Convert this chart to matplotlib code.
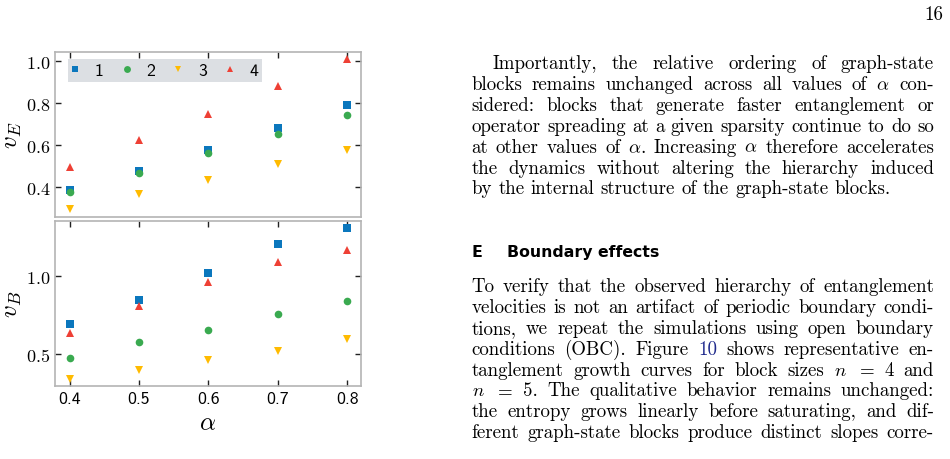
import matplotlib
matplotlib.use("Agg")
from matplotlib import pyplot as plt
from matplotlib.ticker import FormatStrFormatter

plt.rcParams["mathtext.fontset"] = "cm"
plt.rcParams["axes.unicode_minus"] = False

W, H = 950, 460

# data
alpha = [0.4, 0.5, 0.6, 0.7, 0.8]
labels = ["1", "2", "3", "4"]
vE = [
    [0.387, 0.476, 0.577, 0.680, 0.788],
    [0.378, 0.468, 0.562, 0.652, 0.745],
    [0.297, 0.368, 0.436, 0.509, 0.576],
    [0.498, 0.622, 0.748, 0.880, 1.009],
]
vB = [
    [0.694, 0.847, 1.019, 1.211, 1.310],
    [0.470, 0.573, 0.655, 0.759, 0.843],
    [0.338, 0.394, 0.459, 0.515, 0.593],
    [0.634, 0.808, 0.963, 1.093, 1.172],
]
colors = ["#0b77bd", "#3aaa50", "#ffbb00", "#ee4035"]
markers = ["s", "o", "v", "^"]

para1 = [
    "Importantly, the relative ordering of graph-state",
    r"blocks remains unchanged across all values of $\alpha$ con-",
    "sidered: blocks that generate faster entanglement or",
    "operator spreading at a given sparsity continue to do so",
    r"at other values of $\alpha$. Increasing $\alpha$ therefore accelerates",
    "the dynamics without altering the hierarchy induced",
    "by the internal structure of the graph-state blocks.",
]
para2 = [
    "To verify that the observed hierarchy of entanglement",
    "velocities is not an artifact of periodic boundary condi-",
    "tions, we repeat the simulations using open boundary",
    "conditions (OBC). Figure 10 shows representative en-",
    "tanglement growth curves for block sizes $n$ $=$ 4 and",
    "$n$ $=$ 5. The qualitative behavior remains unchanged:",
    "the entropy grows linearly before saturating, and dif-",
    "ferent graph-state blocks produce distinct slopes corre-",
]

fig = plt.figure(figsize=(W / 100, H / 100), dpi=100)
fig.patch.set_facecolor("white")


def px(x, y):
    return x / W, 1 - y / H


ax1 = fig.add_axes([55 / W, 1 - 218 / H, 306 / W, 165.5 / H])
ax2 = fig.add_axes([55 / W, 1 - 387 / H, 306 / W, 165 / H])

for ax, data in [(ax1, vE), (ax2, vB)]:
    for i in range(4):
        ax.plot(alpha, data[i], ls="none", marker=markers[i], color=colors[i],
                ms=5.5, mew=0, label=labels[i])
    ax.set_xlim(0.379, 0.820)
    ax.set_xticks(alpha)
    for s in ax.spines.values():
        s.set_color("#b4b4b4")
        s.set_linewidth(1.2)
    ax.yaxis.set_major_formatter(FormatStrFormatter("$%.1f$"))
    ax.tick_params(direction="in", length=4, width=1, color="#222222",
                   left=True, right=True, labelsize=13)

ax1.set_ylim(0.259, 1.044)
ax1.set_yticks([0.4, 0.6, 0.8, 1.0])
ax1.tick_params(top=True, bottom=False, labelbottom=False)
ax2.set_ylim(0.291, 1.357)
ax2.set_yticks([0.5, 1.0])
ax2.tick_params(top=True, bottom=True)
for t in ax2.get_xticklabels():
    t.set_fontfamily("cmss10")
    t.set_fontsize(12.8)

ax1.set_ylabel(r"$v_E$", fontsize=18)
ax2.set_ylabel(r"$v_B$", fontsize=18)
ax1.yaxis.set_label_coords(-0.1, 0.5)
ax2.yaxis.set_label_coords(-0.1, 0.5)
ax2.set_xlabel(r"$\alpha$", fontsize=18, labelpad=3)

leg = ax1.legend(loc="upper left", bbox_to_anchor=px(68, 60), bbox_transform=fig.transFigure,
                 borderaxespad=0, ncol=4, frameon=True, facecolor="#dcdfe3", edgecolor="none",
                 framealpha=1, fancybox=False, handlelength=0.4, handletextpad=0.9,
                 columnspacing=1.1, borderpad=0.2, markerscale=0.9,
                 prop={"family": "cmss10", "size": 12.8})
leg.get_frame().set_linewidth(0)

# page text
renderer = fig.canvas.get_renderer()
BODY = 13.6


def put_line(line, x0, x1, y, justify=True):
    words = line.split(" ")
    texts = []
    for w in words:
        c = "#1f2a8c" if w == "10" else "black"
        texts.append(fig.text(0, 1 - y / H, w, fontsize=BODY, family="cmr10",
                              va="baseline", ha="left", color=c))
    widths = [t.get_window_extent(renderer).width for t in texts]
    if justify and len(words) > 1:
        gap = (x1 - x0 - sum(widths)) / (len(words) - 1)
    else:
        gap = BODY * 1.389 * 0.333
    x = x0
    for t, w in zip(texts, widths):
        t.set_x(x / W)
        x += w + gap


X0, X1 = 471.5, 934.0
for k, line in enumerate(para1):
    start = X0 + 21 if k == 0 else X0
    put_line(line, start, X1, 69 + 20.9 * k, justify=(k < len(para1) - 1))

fig.text(*px(943, 20), "16", fontsize=BODY, family="cmr10", ha="right", va="baseline")
fig.text(*px(471.5, 257), "E", fontsize=11.3, family="DejaVu Sans", weight="bold", va="baseline")
fig.text(*px(507, 257), "Boundary effects", fontsize=11.3, family="DejaVu Sans",
         weight="bold", va="baseline")

for k, line in enumerate(para2):
    put_line(line, X0, X1, 292 + 20.9 * k, justify=True)

fig.savefig("out.png", dpi=100)
